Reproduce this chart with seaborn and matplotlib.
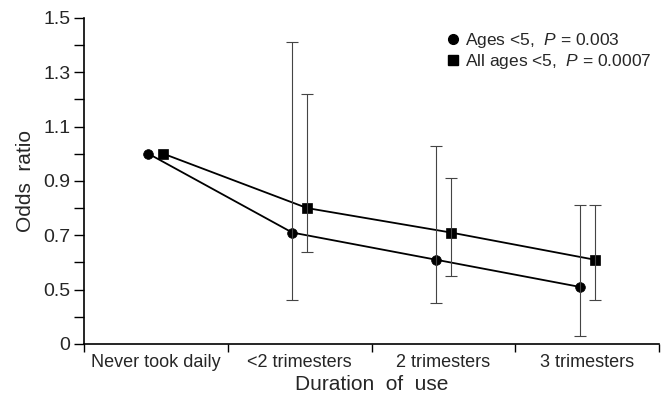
import numpy as np
import pandas as pd
import seaborn as sns
import matplotlib.pyplot as plt
from matplotlib.lines import Line2D

# data
categories = ['Never took daily', '<2 trimesters', '2 trimesters', '3 trimesters']
or_young = [1.00, 0.71, 0.61, 0.51]
lo_young = [1.00, 0.46, 0.45, 0.33]
hi_young = [1.00, 1.41, 1.03, 0.81]
or_all = [1.00, 0.80, 0.71, 0.61]
lo_all = [1.00, 0.64, 0.55, 0.46]
hi_all = [1.00, 1.22, 0.91, 0.81]
legend_labels = [r'Ages <5,  $P$ = 0.003', r'All ages <5,  $P$ = 0.0007']

sns.set_style('ticks')
plt.rcParams['font.family'] = ['Liberation Sans', 'DejaVu Sans']
plt.rcParams['mathtext.fontset'] = 'custom'
plt.rcParams['mathtext.rm'] = 'Liberation Sans'
plt.rcParams['mathtext.it'] = 'Liberation Sans:italic'

fig = plt.figure(figsize=(6.67, 4.07), dpi=100)
ax = fig.add_axes([0.126, 0.155, 0.862, 0.801])

idx = np.arange(len(categories))
shift = 0.052
df = pd.DataFrame({
    'pos': np.concatenate([idx - shift, idx + shift]),
    'OR': or_young + or_all,
    'group': ['young'] * 4 + ['all'] * 4,
})
sns.lineplot(data=df, x='pos', y='OR', style='group', markers={'young': 'o', 'all': 's'},
             dashes=False, color='black', lw=1.3, markersize=7, markeredgecolor='black',
             markeredgewidth=0.5, legend=False, ax=ax)

for off, o, lo, hi in [(-shift, or_young, lo_young, hi_young), (shift, or_all, lo_all, hi_all)]:
    o = np.array(o)
    err = np.vstack([o - np.array(lo), np.array(hi) - o])
    ax.errorbar(idx[1:] + off, o[1:], yerr=err[:, 1:], fmt='none', ecolor='#444444',
                elinewidth=0.8, capsize=4, capthick=0.8)

ax.set_xlim(-0.5, 3.5)
ax.set_ylim(0.3, 1.5)
ax.set_xticks(np.arange(-0.5, 3.6, 1.0))
ax.set_xticklabels([])
ax.set_xticks(idx, minor=True)
ax.set_xticklabels(categories, minor=True, fontsize=13)
ax.tick_params(axis='x', which='minor', length=0, pad=7)
ax.tick_params(axis='x', which='major', length=6, width=1, color='black')
ax.set_yticks([0.3, 0.5, 0.7, 0.9, 1.1, 1.3, 1.5])
ax.set_yticklabels(['0', '0.5', '0.7', '0.9', '1.1', '1.3', '1.5'], fontsize=14)
ax.set_yticks(np.arange(0.4, 1.45, 0.2), minor=True)
ax.tick_params(axis='y', which='both', length=7, width=1, color='black', pad=3)
for s in ['left', 'bottom']:
    ax.spines[s].set_linewidth(1.2)
    ax.spines[s].set_color('black')
sns.despine(ax=ax)

ax.set_xlabel('Duration  of  use', fontsize=15, labelpad=3)
ax.set_ylabel('Odds  ratio', fontsize=15, labelpad=6)

handles = [Line2D([], [], ls='none', marker='o', color='black', markersize=7),
           Line2D([], [], ls='none', marker='s', color='black', markersize=7)]
ax.legend(handles, legend_labels, loc='upper right', bbox_to_anchor=(1.0, 0.982), frameon=False,
          fontsize=12.5, handletextpad=0.1, handlelength=1.2, labelspacing=0.15, borderaxespad=0.0)

fig.savefig('out.png', dpi=100)
